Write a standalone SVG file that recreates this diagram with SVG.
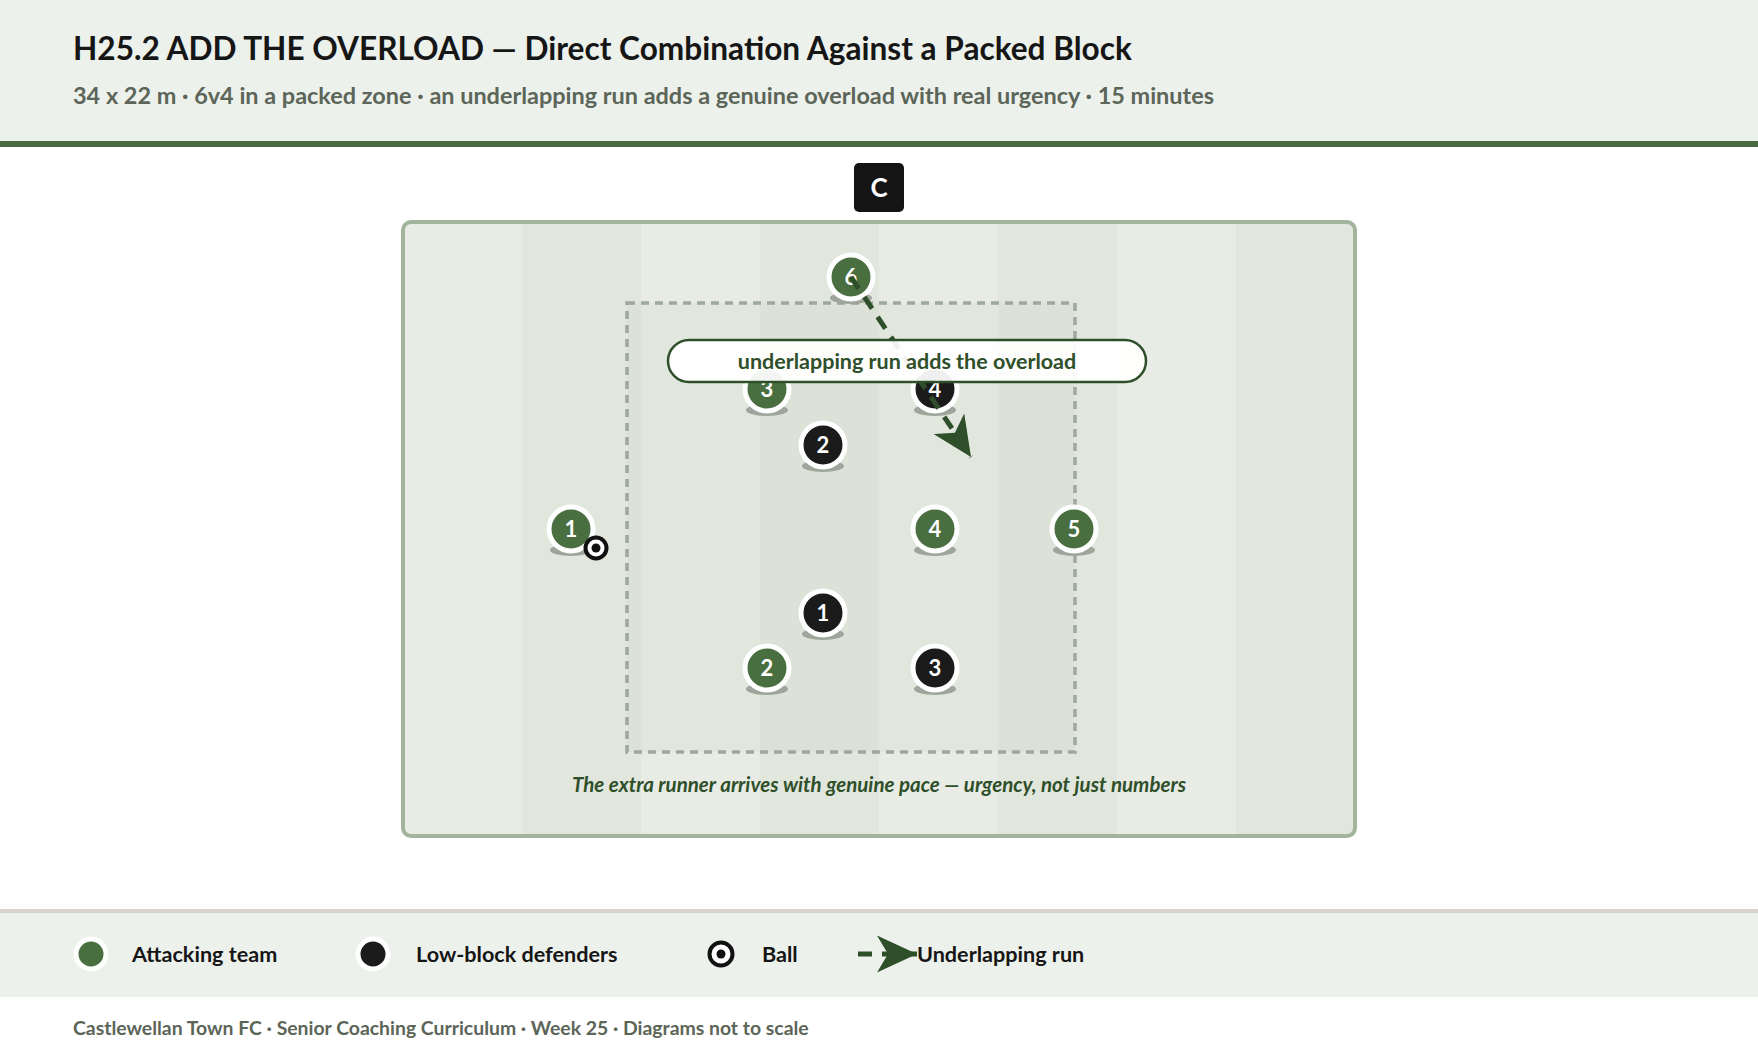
<svg xmlns="http://www.w3.org/2000/svg" width="1758" height="1054" viewBox="0 0 1758 1054">
<defs>
<style>
.t{font-family:Lato,"Noto Sans","Liberation Sans",sans-serif;font-weight:700}
.title{font-size:31.6px;fill:#161616}
.sub{font-size:23.45px;fill:#5b6558}
.num{font-size:22px;fill:#ffffff;text-anchor:middle}
.leg{font-size:21.6px;fill:#161616}
.foot{font-size:19.4px;fill:#5b6558}
.cap{font-size:20.5px;fill:#2f4f2a;font-style:italic;text-anchor:middle}
.lbl{font-size:21.5px;fill:#2f4f2a;text-anchor:middle}
.att{fill:#496e40;stroke:#ffffff;stroke-width:5}
.def{fill:#1b1b1b;stroke:#ffffff;stroke-width:5}
.sh{fill:#9ea59b}
.ball{fill:#ffffff;stroke:#111111;stroke-width:4}
.run{fill:none;stroke:#2f4f2a;stroke-width:5;stroke-dasharray:14 10;stroke-linecap:butt}
.sd{fill:#e1e7dd}
</style>
<marker id="ah" markerUnits="userSpaceOnUse" markerWidth="40" markerHeight="37" viewBox="0 0 40 37" refX="40" refY="18.5" orient="auto">
<path d="M0,0 L40,18.5 L0,37 L11,18.5 Z" fill="#2f4f2a"/>
</marker>
</defs>
<rect width="1758" height="1054" fill="#ffffff"/>
<g id="header">
<rect x="0" y="0" width="1758" height="142" fill="#edf1ec"/>
<rect x="0" y="141" width="1758" height="6" fill="#4a6b41"/>
<text class="t title" x="73" y="60">H25.2 ADD THE OVERLOAD — Direct Combination Against a Packed Block</text>
<text class="t sub" x="73" y="104">34 x 22 m · 6v4 in a packed zone · an underlapping run adds a genuine overload with real urgency · 15 minutes</text>
</g>
<g id="coach">
<rect x="854" y="163" width="50" height="49" rx="5" fill="#141414"/>
<text class="t" x="879" y="197" font-size="26" fill="#ffffff" text-anchor="middle">C</text>
</g>
<g id="pitch">
<rect x="403" y="222" width="952" height="614" rx="8" fill="#e8ece5"/>
<rect class="sd" x="522" y="224" width="119" height="610"/>
<rect class="sd" x="760" y="224" width="119" height="610"/>
<rect class="sd" x="998" y="224" width="119" height="610"/>
<rect class="sd" x="1236" y="224" width="117" height="610"/>
<rect x="403" y="222" width="952" height="614" rx="8" fill="none" stroke="#a2b49c" stroke-width="4"/>
</g>
<g id="zone">
<rect x="627" y="303" width="448" height="449" fill="#4a6b41" fill-opacity="0.035" stroke="#9ea89c" stroke-width="3.5" stroke-dasharray="8 6"/>
</g>
<g id="player-a6"><ellipse class="sh" cx="851" cy="298" rx="21" ry="6"/><circle class="att" cx="851" cy="277" r="22"/><text class="t num" x="851" y="285">6</text></g>
<g id="player-a3"><ellipse class="sh" cx="767" cy="410" rx="21" ry="6"/><circle class="att" cx="767" cy="389" r="22"/><text class="t num" x="767" y="397">3</text></g>
<g id="player-d4"><ellipse class="sh" cx="935" cy="410" rx="21" ry="6"/><circle class="def" cx="935" cy="389" r="22"/><text class="t num" x="935" y="397">4</text></g>
<g id="player-d2"><ellipse class="sh" cx="823" cy="466" rx="21" ry="6"/><circle class="def" cx="823" cy="445" r="22"/><text class="t num" x="823" y="453">2</text></g>
<g id="player-a1"><ellipse class="sh" cx="571" cy="550" rx="21" ry="6"/><circle class="att" cx="571" cy="529" r="22"/><text class="t num" x="571" y="537">1</text></g>
<g id="player-a4"><ellipse class="sh" cx="935" cy="550" rx="21" ry="6"/><circle class="att" cx="935" cy="529" r="22"/><text class="t num" x="935" y="537">4</text></g>
<g id="player-a5"><ellipse class="sh" cx="1074" cy="550" rx="21" ry="6"/><circle class="att" cx="1074" cy="529" r="22"/><text class="t num" x="1074" y="537">5</text></g>
<g id="player-d1"><ellipse class="sh" cx="823" cy="634" rx="21" ry="6"/><circle class="def" cx="823" cy="613" r="22"/><text class="t num" x="823" y="621">1</text></g>
<g id="player-a2"><ellipse class="sh" cx="767" cy="689" rx="21" ry="6"/><circle class="att" cx="767" cy="668" r="22"/><text class="t num" x="767" y="676">2</text></g>
<g id="player-d3"><ellipse class="sh" cx="935" cy="689" rx="21" ry="6"/><circle class="def" cx="935" cy="668" r="22"/><text class="t num" x="935" y="676">3</text></g>
<g id="ball"><circle class="ball" cx="596" cy="548" r="10.5"/><circle cx="596" cy="548" r="4.5" fill="#111111"/></g>
<g id="connectors">
<line class="run" x1="851" y1="277" x2="971" y2="457" marker-end="url(#ah)"/>
</g>
<g id="label">
<rect x="668" y="340" width="478" height="42" rx="21" fill="#ffffff" fill-opacity="0.93" stroke="#2f4f2a" stroke-width="2.5"/>
<text class="t lbl" x="907" y="369">underlapping run adds the overload</text>
</g>
<g id="caption">
<text class="t cap" x="879" y="792">The extra runner arrives with genuine pace — urgency, not just numbers</text>
</g>
<g id="legend">
<rect x="0" y="909" width="1758" height="4" fill="#d9d5cc"/>
<rect x="0" y="913" width="1758" height="84" fill="#edf1ec"/>
<circle class="att" cx="91" cy="954" r="15" stroke-width="3"/>
<text class="t leg" x="132" y="962">Attacking team</text>
<circle class="def" cx="373" cy="954" r="15" stroke-width="3"/>
<text class="t leg" x="416" y="962">Low-block defenders</text>
<circle class="ball" cx="721" cy="954" r="11.5" stroke-width="3.5"/>
<circle cx="721" cy="954" r="4.5" fill="#111111"/>
<text class="t leg" x="762" y="962">Ball</text>
<line class="run" x1="858" y1="954" x2="917" y2="954" marker-end="url(#ah)"/>
<text class="t leg" x="917" y="962">Underlapping run</text>
</g>
<g id="footer">
<text class="t foot" x="73" y="1035">Castlewellan Town FC · Senior Coaching Curriculum · Week 25 · Diagrams not to scale</text>
</g>
</svg>
